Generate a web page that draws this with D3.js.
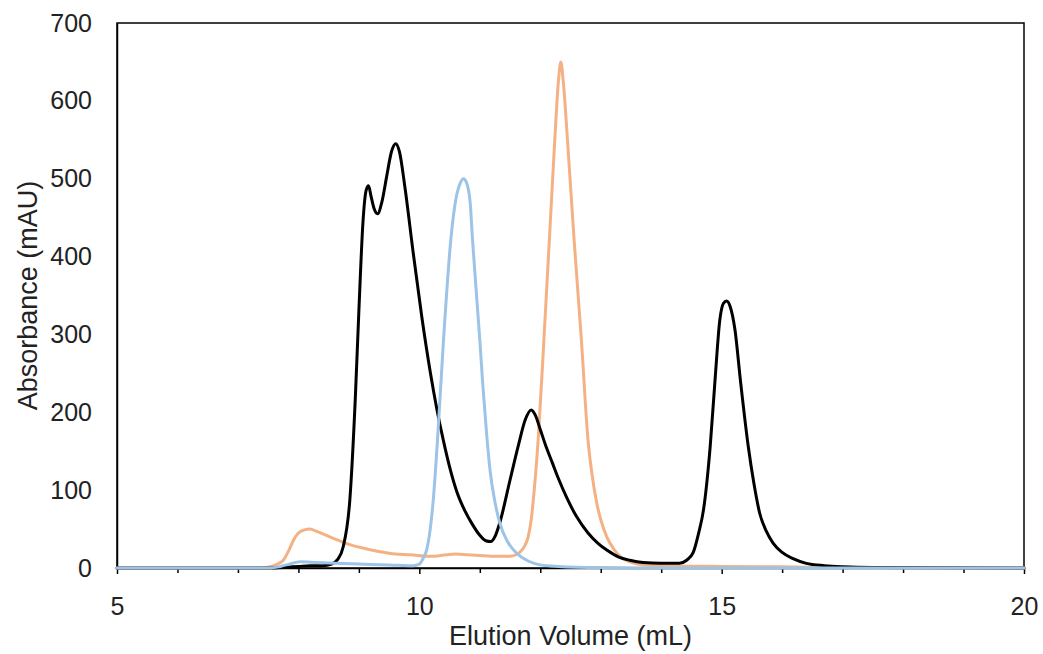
<!DOCTYPE html>
<html>
<head>
<meta charset="utf-8">
<script src="https://cdn.jsdelivr.net/npm/d3@7"></script>
<style>
  html, body { margin: 0; padding: 0; background: #fff; }
  svg { display: block; font-family: "Liberation Sans", Arial, sans-serif; }
</style>
</head>
<body>
<svg id="chart" width="1043" height="654"></svg>
<script>
// Elution volume (mL) / absorbance (mAU) pairs for each chromatogram trace
const blackVolume = [5.0, 7.6, 7.8, 8.0, 8.2, 8.4, 8.55, 8.65, 8.74, 8.85, 8.94, 9.0, 9.07, 9.12, 9.16, 9.2, 9.25, 9.31, 9.38, 9.46, 9.54, 9.61, 9.67, 9.76, 9.9, 10.04, 10.18, 10.29, 10.4, 10.51, 10.62, 10.75, 10.87, 11.0, 11.1, 11.18, 11.26, 11.33, 11.5, 11.64, 11.75, 11.85, 11.92, 12.0, 12.1, 12.2, 12.3, 12.44, 12.6, 12.79, 12.95, 13.1, 13.3, 13.48, 13.7, 14.0, 14.3, 14.42, 14.53, 14.62, 14.7, 14.81, 14.89, 14.97, 15.03, 15.08, 15.14, 15.22, 15.31, 15.44, 15.53, 15.63, 15.74, 15.85, 16.0, 16.18, 16.4, 16.7, 17.0, 17.5, 20.0];
const blackAbs    = [0, 0, 1, 2, 3, 3, 5, 11, 27, 87, 216, 330, 447, 485, 491, 478, 462, 455, 470, 503, 535, 545, 535, 490, 404, 323, 252, 204, 163, 127, 98, 74, 57, 42, 35, 34, 42, 58, 113, 158, 190, 203, 196, 178, 155, 135, 115, 90, 66, 45, 32, 23, 14, 10, 7, 6, 6, 10, 20, 45, 75, 156, 241, 319, 340, 343, 336, 306, 241, 156, 110, 70, 47, 32, 20, 12, 6, 3, 1.5, 0.5, 0];

const orangeVolume = [5.0, 7.4, 7.55, 7.65, 7.75, 7.85, 7.92, 8.0, 8.1, 8.19, 8.3, 8.52, 8.85, 9.1, 9.35, 9.6, 9.85, 10.18, 10.45, 10.6, 10.8, 11.0, 11.3, 11.5, 11.6, 11.66, 11.74, 11.8, 11.85, 11.9, 11.97, 12.06, 12.15, 12.24, 12.3, 12.34, 12.38, 12.45, 12.56, 12.68, 12.79, 12.86, 12.93, 13.0, 13.1, 13.21, 13.35, 13.48, 13.7, 14.0, 15.0, 16.0, 17.0, 20.0];
const orangeAbs    = [0, 0, 2, 5, 10, 24, 36, 45, 49, 50, 47, 40, 30, 25, 21, 18, 17, 15, 17, 18, 17, 16, 15, 15, 17, 20, 28, 40, 62, 100, 170, 293, 421, 550, 625, 650, 625, 550, 421, 293, 164, 118, 85, 62, 40, 25, 13, 8, 4, 3, 2, 1.5, 0.5, 0];

const blueVolume = [5.0, 7.55, 7.7, 7.85, 8.03, 8.3, 8.6, 9.0, 9.5, 9.9, 10.0, 10.06, 10.12, 10.18, 10.23, 10.3, 10.4, 10.52, 10.62, 10.68, 10.73, 10.78, 10.84, 10.88, 11.0, 11.05, 11.11, 11.17, 11.25, 11.33, 11.45, 11.61, 11.8, 12.0, 12.3, 13.0, 14.0, 20.0];
const blueAbs    = [0, 0, 2, 5, 8, 7, 6, 5, 4, 3, 5, 12, 23, 50, 87, 164, 293, 421, 480, 495, 500, 495, 470, 421, 293, 235, 175, 125, 85, 58, 35, 19, 9, 4, 2, 0.5, 0, 0];

// Axis ticks
const xTicks = [5, 6, 7, 8, 9, 10, 11, 12, 13, 14, 15, 16, 17, 18, 19, 20];
const xTickLabels = [5, 10, 15, 20];
const yTickLabels = [0, 100, 200, 300, 400, 500, 600, 700];

const svg = d3.select("#chart");
const margin = { left: 117, right: 19, top: 23, bottom: 86 };
const W = 1043, H = 654;
const x0 = margin.left, x1 = W - margin.right;
const y0 = H - margin.bottom, y1 = margin.top;

const x = d3.scaleLinear().domain([5, 20]).range([x0, x1]);
const y = d3.scaleLinear().domain([0, 700]).range([y0, y1]);

const line = d3.line()
  .x(d => x(d[0]))
  .y(d => y(d[1]))
  .curve(d3.curveMonotoneX);

const zip = (a, b) => a.map((v, i) => [v, b[i]]);

const traces = [
  { pts: zip(orangeVolume, orangeAbs), color: "#F4B183" },
  { pts: zip(blackVolume, blackAbs), color: "#000000" },
  { pts: zip(blueVolume, blueAbs), color: "#9DC3E6" }
];

// Plot-area frame
svg.append("rect")
  .attr("x", x0).attr("y", y1)
  .attr("width", x1 - x0).attr("height", y0 - y1)
  .attr("fill", "none").attr("stroke", "#000").attr("stroke-width", 1.5);

// Bottom axis: a tick at every mL, labels at 5 mL steps
const xAxis = d3.axisBottom(x)
  .tickValues(xTicks)
  .tickSizeInner(5)
  .tickSizeOuter(0)
  .tickPadding(24)
  .tickFormat(d => xTickLabels.includes(d) ? d3.format("d")(d) : "");

const gx = svg.append("g")
  .attr("transform", `translate(0,${y0})`)
  .call(xAxis);
gx.select(".domain").attr("stroke", "#000").attr("stroke-width", 1.5);
gx.selectAll(".tick line").attr("stroke", "#000").attr("stroke-width", 1.5)
  .attr("y2", d => xTickLabels.includes(d) ? 6 : 5);
gx.selectAll(".tick text")
  .attr("font-size", 25)
  .attr("fill", "#222")
  .attr("font-family", "Liberation Sans, Arial, sans-serif");

// Left axis: labels only, no tick marks
const yAxis = d3.axisLeft(y)
  .tickValues(yTickLabels)
  .tickSize(0)
  .tickPadding(25)
  .tickFormat(d3.format("d"));

const gy = svg.append("g")
  .attr("transform", `translate(${x0},0)`)
  .call(yAxis);
gy.select(".domain").attr("stroke", "#000").attr("stroke-width", 1.5);
gy.selectAll(".tick text")
  .attr("font-size", 25)
  .attr("fill", "#222")
  .attr("font-family", "Liberation Sans, Arial, sans-serif");

// Traces
svg.append("g").selectAll("path")
  .data(traces)
  .join("path")
  .attr("d", d => line(d.pts))
  .attr("fill", "none")
  .attr("stroke", d => d.color)
  .attr("stroke-width", 3)
  .attr("stroke-linejoin", "round")
  .attr("stroke-linecap", "round");

// Axis titles
svg.append("text")
  .attr("x", (x0 + x1) / 2)
  .attr("y", 645)
  .attr("text-anchor", "middle")
  .attr("font-size", 27)
  .attr("fill", "#222")
  .text("Elution Volume (mL)");

svg.append("text")
  .attr("transform", `translate(37,${(y0 + y1) / 2}) rotate(-90)`)
  .attr("text-anchor", "middle")
  .attr("font-size", 27)
  .attr("fill", "#222")
  .text("Absorbance (mAU)");
</script>
</body>
</html>
